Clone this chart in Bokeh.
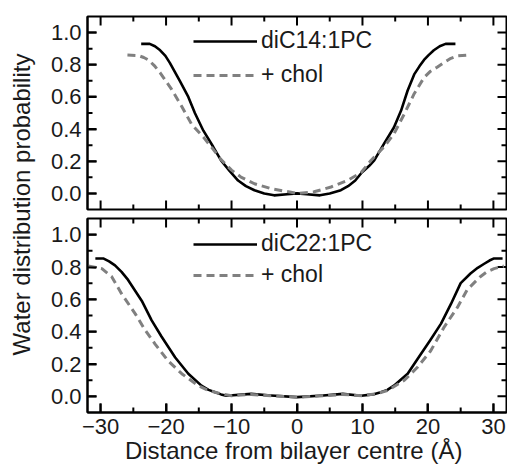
import math
from bokeh.plotting import figure
from bokeh.layouts import row, column
from bokeh.models import (Legend, LegendItem, LinearAxis, Label, FixedTicker, Range1d)
from bokeh.embed import file_html
from bokeh.resources import INLINE

# ---- data ----
c14_x = [-23.8, -22.5, -21.7, -20.9, -20.1, -19.4, -17.9, -16.6, -15.6, -14.3, -12.8, -11.6, -10.3, -9.0,
         -7.8, -6.5, -5.0, -3.5, -1.5, 0.0, 1.5, 3.5, 5.0, 6.7, 7.8, 8.9, 9.9, 11.0, 11.8, 13.3, 14.8, 15.9,
         16.9, 17.9, 18.7, 19.4, 20.1, 20.9, 21.8, 22.7, 24.2]
c14_y = [0.93, 0.93, 0.915, 0.89, 0.855, 0.81, 0.70, 0.60, 0.50, 0.39, 0.29, 0.205, 0.14, 0.08,
         0.045, 0.02, 0.0, -0.012, -0.005, 0.0, -0.005, -0.012, 0.0, 0.02, 0.045, 0.08, 0.13, 0.17, 0.205,
         0.31, 0.41, 0.515, 0.64, 0.74, 0.79, 0.83, 0.86, 0.89, 0.915, 0.93, 0.93]

c14chol_x = [-25.9, -24.2, -23.4, -22.7, -21.8, -20.9, -19.2, -17.6, -16.1, -14.3, -13.1, -11.6, -10.0, -8.5,
             -6.5, -4.0, -2.0, 0.1, 2.6, 5.2, 7.7, 9.8, 11.3, 13.3, 14.8, 16.4, 17.9, 19.4, 20.4, 21.4,
             22.5, 23.5, 24.5, 26.0]
c14chol_y = [0.86, 0.857, 0.845, 0.83, 0.795, 0.75, 0.65, 0.54, 0.43, 0.35, 0.29, 0.21, 0.145, 0.10,
             0.06, 0.03, 0.015, 0.0, 0.01, 0.04, 0.08, 0.13, 0.205, 0.29, 0.37, 0.495, 0.62, 0.72, 0.76, 0.785,
             0.815, 0.84, 0.855, 0.86]

c22_x = [-30.8, -29.6, -28.7, -27.8, -26.8, -25.8, -23.7, -22.2, -20.7, -18.6, -16.6, -14.6, -13.5, -12.5,
         -11.6, -10.8, -7.0, -4.0, 0.0, 4.0, 7.0, 9.8, 11.6, 12.8, 13.8, 14.8, 16.9, 18.9, 20.4, 22.0, 23.5,
         25.0, 26.5, 27.6, 28.6, 29.4, 30.1, 31.4]
c22_y = [0.853, 0.853, 0.835, 0.81, 0.77, 0.72, 0.59, 0.47, 0.37, 0.24, 0.14, 0.066, 0.04, 0.025,
         0.012, 0.004, 0.015, 0.005, -0.005, 0.005, 0.015, 0.004, 0.012, 0.025, 0.04, 0.066, 0.14, 0.26,
         0.35, 0.45, 0.57, 0.70, 0.76, 0.795, 0.82, 0.84, 0.853, 0.853]

c22chol_x = [-31.9, -29.8, -28.3, -26.8, -24.7, -23.2, -21.7, -19.7, -17.6, -15.1, -13.7, -12.5, -11.2, -10.0,
             -7.0, -4.0, 0.0, 4.0, 7.0, 10.0, 12.0, 13.8, 16.4, 18.4, 20.4, 22.5, 24.5, 26.0, 28.0, 29.0,
             30.1, 31.6]
c22chol_y = [0.806, 0.79, 0.74, 0.635, 0.51, 0.41, 0.325, 0.22, 0.14, 0.066, 0.04, 0.025, 0.012, 0.004,
             0.012, 0.003, -0.005, 0.003, 0.012, 0.004, 0.015, 0.035, 0.10, 0.18, 0.28, 0.43, 0.55, 0.66,
             0.74, 0.77, 0.79, 0.806]

x_lim = [-32, 32]
y_lim = [-0.1, 1.1]
x_ticks = [-30, -20, -10, 0, 10, 20, 30]
x_minor = [-25, -15, -5, 5, 15, 25]
y_ticks = [0.0, 0.2, 0.4, 0.6, 0.8, 1.0]
y_minor = [0.1, 0.3, 0.5, 0.7, 0.9]
labels_top = ["diC14:1PC", "+ chol"]
labels_bot = ["diC22:1PC", "+ chol"]

FONT = "Liberation Sans"
TXT = "#1a1a1a"
GRAY = "#808080"
MAJOR = 18   # marker length; half of it falls inside the frame (9 px tick)
MINOR = 10   # 5 px tick
TICK_W = 2


def label_axis(ax):
    ax.axis_line_color = "black"
    ax.axis_line_width = 2
    ax.major_tick_in = 9
    ax.major_tick_out = 0
    ax.minor_tick_in = 0
    ax.minor_tick_out = 0
    ax.major_tick_line_width = TICK_W
    ax.major_tick_line_color = "black"
    ax.major_label_text_font = FONT
    ax.major_label_text_color = TXT
    ax.major_label_text_font_size = "22px"


def frame_ticks(p):
    # inward ticks on all four sides, drawn as dash markers clipped by the frame
    for vals, size in ((x_ticks, MAJOR), (x_minor, MINOR)):
        for edge in y_lim:
            p.scatter(x=vals, y=[edge] * len(vals), marker="dash", angle=math.pi / 2, size=size,
                      line_color="black", line_width=TICK_W)
    for vals, size in ((y_ticks, MAJOR), (y_minor, MINOR)):
        for edge in x_lim:
            p.scatter(x=[edge] * len(vals), y=vals, marker="dash", size=size,
                      line_color="black", line_width=TICK_W)


def make_panel(h, top_border, bottom_border, labelled_x, xs, ys, leg_labels, leg_loc, leg_spacing):
    p = figure(width=467, height=h, output_backend="svg", toolbar_location=None,
               x_range=Range1d(*x_lim), y_range=Range1d(*y_lim),
               x_axis_location=None, y_axis_location=None,
               min_border_left=47, min_border_right=1,
               min_border_top=top_border, min_border_bottom=bottom_border)
    p.xgrid.visible = False
    p.ygrid.visible = False
    p.outline_line_color = "black"
    p.outline_line_width = 2
    p.background_fill_color = "white"
    p.border_fill_color = "white"

    yax = LinearAxis(ticker=FixedTicker(ticks=y_ticks))
    label_axis(yax)
    yax.major_label_standoff = 6
    yax.major_label_overrides = {0.0: "0.0", 0.2: "0.2", 0.4: "0.4", 0.6: "0.6", 0.8: "0.8", 1.0: "1.0"}
    p.add_layout(yax, "left")

    if labelled_x:
        xax = LinearAxis(ticker=FixedTicker(ticks=x_ticks))
        label_axis(xax)
        xax.major_label_standoff = 6
        xax.axis_label = "Distance from bilayer centre  (\u00c5)"
        xax.axis_label_text_font = FONT
        xax.axis_label_text_font_size = "24px"
        xax.axis_label_text_font_style = "normal"
        xax.axis_label_text_color = TXT
        xax.axis_label_standoff = 0
        p.add_layout(xax, "below")

    frame_ticks(p)

    r1 = p.line(xs[0], ys[0], line_color="black", line_width=2.6, line_join="round")
    r2 = p.line(xs[1], ys[1], line_color=GRAY, line_width=3, line_dash="8 5")

    leg = Legend(items=[LegendItem(label=leg_labels[0], renderers=[r1]),
                        LegendItem(label=leg_labels[1], renderers=[r2])],
                 location=leg_loc, orientation="vertical")
    leg.glyph_width = 64
    leg.glyph_height = 20
    leg.label_height = 20
    leg.label_standoff = 4
    leg.spacing = leg_spacing
    leg.padding = 0
    leg.margin = 0
    leg.border_line_color = None
    leg.background_fill_alpha = 0
    leg.label_text_font = FONT
    leg.label_text_font_size = "23px"
    leg.label_text_color = TXT
    p.add_layout(leg, "center")
    return p


top = make_panel(213, 16, 4, False, [c14_x, c14chol_x], [c14_y, c14chol_y], labels_top, (106, 121), 7)
bot = make_panel(255, 5, 56, True, [c22_x, c22chol_x], [c22_y, c22chol_y], labels_bot, (106, 124), 4)

lab = figure(width=40, height=468, output_backend="svg", toolbar_location=None,
             x_range=Range1d(0, 1), y_range=Range1d(0, 1),
             min_border_left=0, min_border_right=0, min_border_top=0, min_border_bottom=0)
lab.axis.visible = False
lab.grid.visible = False
lab.outline_line_color = None
lab.add_layout(Label(x=21, y=264, x_units="screen", y_units="screen",
                     text="Water distribution probability", angle=math.pi / 2,
                     text_align="center", text_baseline="middle",
                     text_font=FONT, text_font_size="24px", text_color=TXT))

layout = row(lab, column(top, bot, spacing=0), spacing=0)
open("out.html", "w").write(file_html(layout, INLINE))
